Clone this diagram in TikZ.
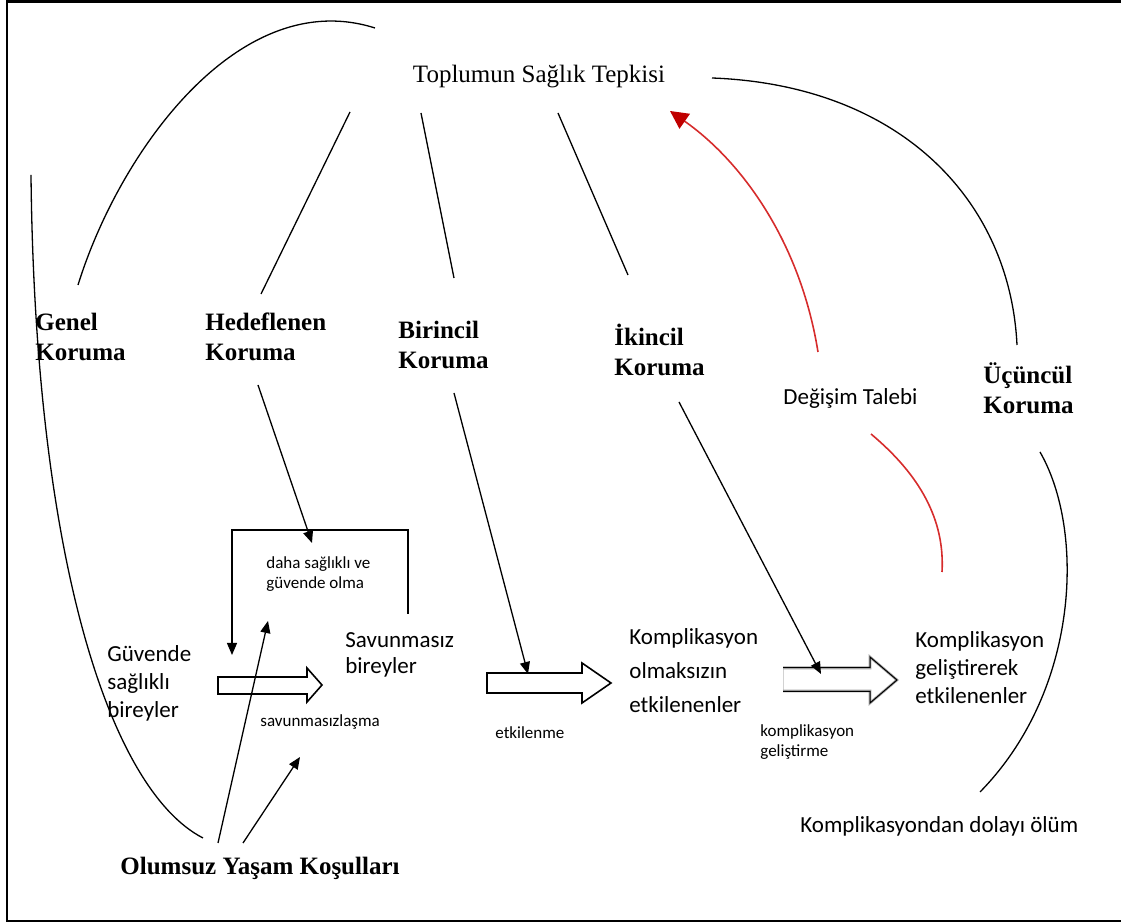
\documentclass[tikz,border=0pt]{standalone}
\usepackage{fontspec}
\setmainfont{Liberation Serif}
\newfontfamily\calib{Carlito}
\usetikzlibrary{arrows.meta}
\definecolor{redline}{RGB}{214,44,44}
\definecolor{redhead}{RGB}{192,0,0}
\begin{document}
\begin{tikzpicture}[x=0.5pt,y=-0.5pt,
  title/.style={font=\fontsize{12.5}{15}\selectfont, inner sep=0pt},
  level/.style={font=\bfseries\fontsize{12.5}{15}\selectfont, align=left, anchor=west, inner sep=0pt},
  bigtxt/.style={font=\calib\fontsize{11.5}{14}\selectfont, align=left, anchor=west, inner sep=0pt},
  smalltxt/.style={font=\calib\fontsize{8.5}{10}\selectfont, align=left, anchor=west, inner sep=0pt},
  thin/.style={line width=0.65pt},
  arr/.style={thin, -{Triangle[length=6pt,width=5pt]}},
  blockarrow/.style={line width=0.8pt, fill=white},
  redarr/.style={line width=0.8pt, redline, -{Triangle[length=9pt,width=9pt,fill=redhead,color=redhead]}},
]
\useasboundingbox (0,0) rectangle (1121,924);

% outer frame (open on the right)
\draw[line width=1.1pt] (1125,1.5) -- (7,1.5) -- (7,921) -- (1125,921);

% ---------- labels ----------
\node[title] (top) at (539,77) {Toplumun Sağlık Tepkisi};
\node[level] (genel) at (35,337) {Genel\\Koruma};
\node[level] (hedef) at (205,337) {Hedeflenen\\Koruma};
\node[level] (birincil) at (398,345) {Birincil\\Koruma};
\node[level] (ikincil) at (614,350) {İkincil\\Koruma};
\node[level] (ucuncul) at (983,388) {Üçüncül\\Koruma};
\node[bigtxt] (degisim) at (783,398) {Değişim Talebi};
\node[smalltxt] (dahasag) at (266,574) {daha sağlıklı ve\\güvende olma};
\node[bigtxt] (guvende) at (107,683) {Güvende\\sağlıklı\\bireyler};
\node[bigtxt, font=\calib\fontsize{11.5}{13}\selectfont] (savun) at (345,655) {Savunmasız\\bireyler};
\node[smalltxt] (savlas) at (260,722) {savunmasızlaşma};
\node[smalltxt] (etkilenme) at (495,733) {etkilenme};
\node[bigtxt, font=\calib\fontsize{11.5}{17}\selectfont] (kompolm) at (629,671) {Komplikasyon\\olmaksızın\\etkilenenler};
\node[smalltxt] (kompgel) at (760,742) {komplikasyon\\geliştirme};
\node[bigtxt] (kompetk) at (915,668) {Komplikasyon\\geliştirerek\\etkilenenler};
\node[bigtxt] (olum) at (800,826) {Komplikasyondan dolayı ölüm};
\node[level] (olumsuz) at (120,868) {Olumsuz Yaşam Koşulları};

% ---------- connector end points ----------
\coordinate (h1) at (350,112);  \coordinate (h2) at (261,294);
\coordinate (b1) at (421,113);  \coordinate (b2) at (454,278);
\coordinate (i1) at (558,113);  \coordinate (i2) at (628,275);
\coordinate (ga) at (78,285);   \coordinate (gb) at (375,28);
\coordinate (ua) at (712,78);   \coordinate (ub) at (1017,345);
\coordinate (la) at (31,175);   \coordinate (lb) at (203,838);
\coordinate (ra) at (1040,452); \coordinate (rb) at (980,792);
\coordinate (hs) at (258,385);  \coordinate (ht) at (312,543);
\coordinate (bs) at (454,393);  \coordinate (bt) at (528,674);
\coordinate (is) at (679,402);  \coordinate (it) at (821,674);
\coordinate (loopa) at (408,614); \coordinate (loopb) at (232,655);
\coordinate (os1) at (218,843); \coordinate (ot1) at (268,621);
\coordinate (os2) at (243,843); \coordinate (ot2) at (300,757);
\coordinate (dsa) at (818,352); \coordinate (dsb) at (670,111);
\coordinate (dba) at (871,434); \coordinate (dbb) at (942,572);

% ---------- lines from the response to the protection levels ----------
\draw[thin] (h1) -- (h2);
\draw[thin] (b1) -- (b2);
\draw[thin] (i1) -- (i2);
\draw[thin] (ga) .. controls (120,150) and (240,-15) .. (gb);
\draw[thin] (ua) .. controls (900,85) and (1010,200) .. (ub);

% long arcs
\draw[thin] (la) .. controls (35,560) and (110,790) .. (lb);
\draw[thin] (ra) .. controls (1085,530) and (1080,690) .. (rb);

% demand for change
\draw[redarr] (dsa) .. controls (800,240) and (740,160) .. (dsb);
\draw[line width=0.8pt, redline] (dba) .. controls (920,475) and (945,520) .. (dbb);

% ---------- block arrows between the stages ----------
\draw[blockarrow] (218,677) -- (307,677) -- (307,668) -- (322,685) -- (307,702) -- (307,694) -- (218,694) -- cycle;
\draw[blockarrow] (487,673) -- (582,673) -- (582,663) -- (611,683) -- (582,703) -- (582,693) -- (487,693) -- cycle;
\fill[white] (783,668) -- (870,668) -- (870,657) -- (897,680) -- (870,703) -- (870,691) -- (783,691) -- cycle;
\draw[line width=0.5pt, gray!35] (783,668) -- (783,691);
\draw[line width=1.3pt, gray!70] (783,668) -- (870,668) -- (870,657) -- (897,680) -- (870,703) -- (870,691) -- (783,691);
\draw[line width=0.5pt] (783,667.5) -- (870,667.5) -- (870,657) -- (897,680) -- (870,703) -- (870,691.5) -- (783,691.5);

% ---------- arrows from the protection levels ----------
\draw[arr] (hs) -- (ht);
\draw[arr] (bs) -- (bt);
\draw[arr] (is) -- (it);

% feedback loop back to the safe group
\draw[arr] (loopa) -- (408,530) -- (232,530) -- (loopb);

% adverse living conditions
\draw[arr] (os1) -- (ot1);
\draw[arr] (os2) -- (ot2);
\end{tikzpicture}
\end{document}
